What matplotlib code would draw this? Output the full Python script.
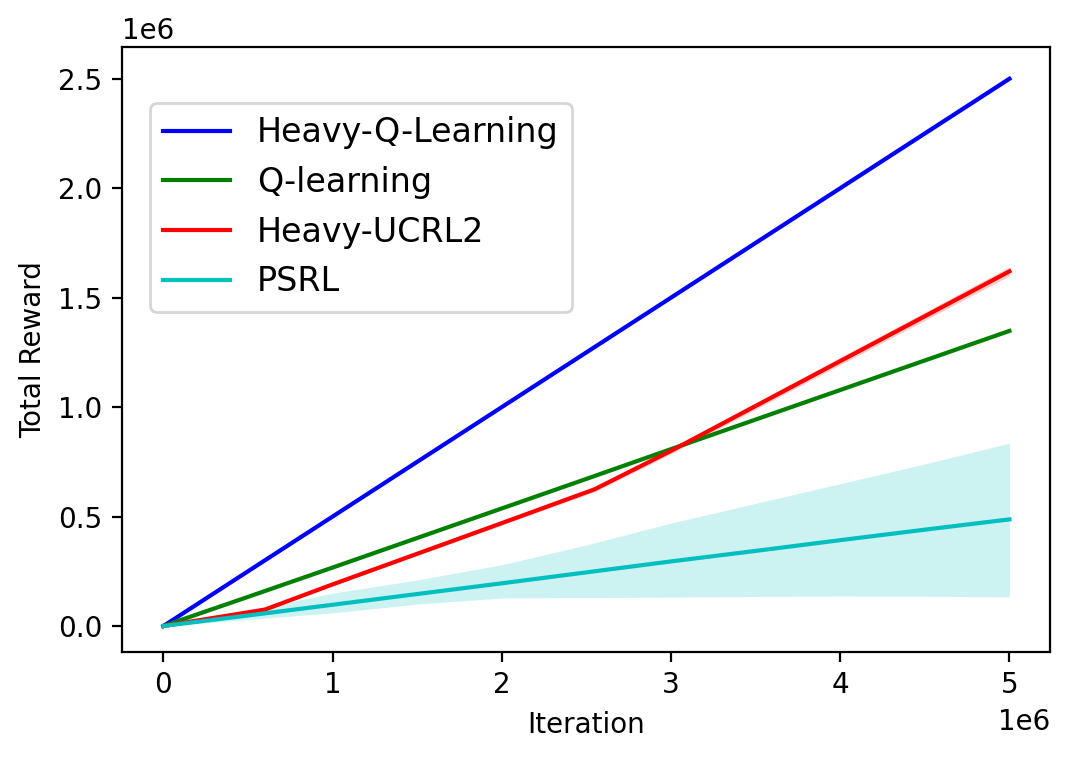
import numpy as np
import matplotlib.pyplot as plt

# iteration grid (x 1e6)
iters = np.array([0, 0.5, 1.0, 1.5, 2.0, 2.5, 3.0, 3.5, 4.0, 4.5, 5.0]) * 1e6
ucrl_iters = np.array([0, 0.6, 1.0, 1.5, 2.0, 2.55, 3.0, 3.5, 4.0, 4.5, 5.0]) * 1e6

# mean total reward per method (x 1e6)
heavy_q = np.array([0, 0.25, 0.50, 0.75, 1.00, 1.25, 1.50, 1.75, 2.00, 2.25, 2.50]) * 1e6
q_learn = np.array([0, 0.133, 0.267, 0.402, 0.537, 0.672, 0.808, 0.943, 1.078, 1.213, 1.348]) * 1e6
heavy_ucrl = np.array([0, 0.075, 0.19, 0.33, 0.47, 0.625, 0.80, 1.005, 1.21, 1.415, 1.62]) * 1e6
psrl = np.array([0, 0.048, 0.097, 0.146, 0.195, 0.245, 0.295, 0.343, 0.392, 0.44, 0.487]) * 1e6

# band half widths / bounds
heavy_q_err = np.array([0, 0.002, 0.003, 0.004, 0.005, 0.006, 0.006, 0.007, 0.008, 0.008, 0.009]) * 1e6
heavy_ucrl_err = np.array([0, 0.004, 0.006, 0.008, 0.009, 0.011, 0.013, 0.015, 0.017, 0.019, 0.021]) * 1e6
psrl_low = np.array([0, 0.03, 0.06, 0.10, 0.128, 0.13, 0.132, 0.135, 0.137, 0.136, 0.133]) * 1e6
psrl_high = np.array([0, 0.07, 0.15, 0.21, 0.28, 0.37, 0.47, 0.56, 0.65, 0.74, 0.835]) * 1e6

dpi = 200
fig = plt.figure(figsize=(1072 / dpi, 758 / dpi), dpi=dpi)
ax = fig.add_axes([0.1138, 0.1398, 0.9795 - 0.1138, 0.938 - 0.1398])

ax.plot(iters, heavy_q, color='b', lw=1.5, label='Heavy-Q-Learning')
ax.fill_between(iters, heavy_q - heavy_q_err, heavy_q + heavy_q_err, color='b', alpha=0.2, lw=0)
ax.plot(iters, q_learn, color='g', lw=1.5, label='Q-learning')
ax.plot(ucrl_iters, heavy_ucrl, color='r', lw=1.5, label='Heavy-UCRL2')
ax.fill_between(ucrl_iters, heavy_ucrl - heavy_ucrl_err, heavy_ucrl + heavy_ucrl_err, color='r', alpha=0.2, lw=0)
ax.plot(iters, psrl, color='c', lw=1.5, label='PSRL')
ax.fill_between(iters, psrl_low, psrl_high, color='c', alpha=0.2, lw=0)

ax.set_xlim(-0.245e6, 5.24e6)
ax.set_ylim(-0.119e6, 2.645e6)
ax.set_xlabel('Iteration')
ax.set_ylabel('Total Reward')

ax.legend(loc='upper left', bbox_to_anchor=(0.0302, 0.9074), borderaxespad=0, fontsize=12)

fig.savefig('out.png', dpi=dpi)
